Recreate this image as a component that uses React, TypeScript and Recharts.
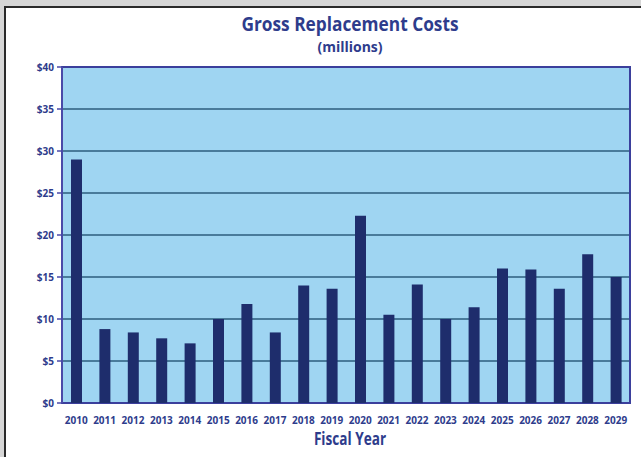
import { BarChart, Bar, XAxis, YAxis, CartesianGrid, ReferenceArea } from 'recharts';

const years = [
    '2010', '2011', '2012', '2013', '2014', '2015', '2016', '2017', '2018', '2019',
    '2020', '2021', '2022', '2023', '2024', '2025', '2026', '2027', '2028', '2029',
];
const costs = [
    29.0, 8.8, 8.4, 7.7, 7.1, 10.0, 11.8, 8.4, 14.0, 13.6,
    22.3, 10.5, 14.1, 10.0, 11.4, 16.0, 15.9, 13.6, 17.7, 15.0,
];
const yTicks = [0, 5, 10, 15, 20, 25, 30, 35, 40];

const data = years.map((year, i) => ({ year, cost: costs[i] }));
const boundaryTicks = years.map((_, i) => i).concat(years.length);

const navy = '#2e3c8c';
const font = '"Open Sans", sans-serif';

const App = () => {
    return (
        <div
            style={{
                position: 'absolute',
                left: 0,
                top: 0,
                width: 641,
                height: 457,
                background: '#ffffff',
                overflow: 'hidden',
                fontFamily: font,
            }}
        >
            <div style={{ position: 'absolute', left: 0, top: 0, width: 641, height: 6, background: '#d6d6d6' }} />
            <div style={{ position: 'absolute', left: 0, top: 0, width: 4, height: 457, background: '#d6d6d6' }} />
            <div style={{ position: 'absolute', left: 4, top: 6, width: 637, height: 2, background: '#2a2a2a' }} />
            <div style={{ position: 'absolute', left: 4, top: 6, width: 2, height: 451, background: '#2a2a2a' }} />

            <div
                style={{
                    position: 'absolute',
                    left: 0,
                    width: 700,
                    top: 15,
                    lineHeight: '19px',
                    textAlign: 'center',
                    color: navy,
                    fontWeight: 700,
                    fontSize: 19,
                    transform: 'scaleX(0.91)',
                }}
            >
                Gross Replacement Costs
            </div>
            <div
                style={{
                    position: 'absolute',
                    left: 0,
                    width: 700,
                    top: 40,
                    lineHeight: '14px',
                    textAlign: 'center',
                    color: navy,
                    fontWeight: 700,
                    fontSize: 14,
                }}
            >
                (millions)
            </div>
            <div
                style={{
                    position: 'absolute',
                    left: 0,
                    width: 700,
                    top: 430,
                    lineHeight: '17px',
                    textAlign: 'center',
                    color: navy,
                    fontWeight: 700,
                    fontSize: 17,
                    transform: 'scaleX(0.8)',
                }}
            >
                Fiscal Year
            </div>

            <div style={{ position: 'absolute', left: 0, top: 0 }}>
                <BarChart
                    width={641}
                    height={457}
                    data={data}
                    margin={{ top: 67, right: 11, left: 0, bottom: 24 }}
                >
                    <CartesianGrid
                        vertical={false}
                        fill="#9fd5f2"
                        fillOpacity={1}
                        stroke="#2d5d7e"
                        strokeWidth={1.5}
                    />
                    <XAxis
                        xAxisId="bounds"
                        type="number"
                        domain={[0, years.length]}
                        ticks={boundaryTicks}
                        tick={false}
                        height={0}
                        axisLine={{ stroke: '#4a4aa8', strokeWidth: 2 }}
                        tickLine={{ stroke: '#4a4aa8', strokeWidth: 1.5 }}
                        tickSize={4}
                    />
                    <XAxis
                        dataKey="year"
                        height={30}
                        axisLine={false}
                        tickLine={false}
                        interval={0}
                        tickMargin={8}
                        tick={{ fill: navy, fontSize: 10, fontWeight: 700, fontFamily: font }}
                    />
                    <YAxis
                        width={62}
                        domain={[0, 40]}
                        ticks={yTicks}
                        interval={0}
                        tickFormatter={(v) => `$${v}`}
                        axisLine={{ stroke: '#4a4aa8', strokeWidth: 2 }}
                        tickLine={{ stroke: '#4a4aa8', strokeWidth: 1.5 }}
                        tickSize={5}
                        tickMargin={3}
                        tick={{ fill: navy, fontSize: 10, fontWeight: 700, fontFamily: font }}
                    />
                    <Bar dataKey="cost" fill="#1e2d6c" barSize={11} isAnimationActive={false} />
                    <ReferenceArea
                        y1={0}
                        y2={40}
                        fill="none"
                        fillOpacity={0}
                        stroke="#3b3f9c"
                        strokeWidth={2}
                    />
                </BarChart>
            </div>
        </div>
    );
};

export default App;
